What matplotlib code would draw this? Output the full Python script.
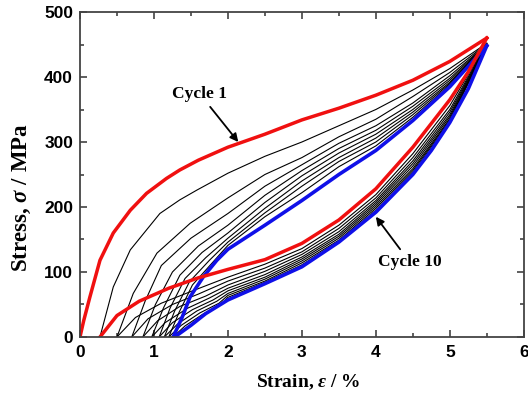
import matplotlib.pyplot as plt
from matplotlib.ticker import MultipleLocator

plt.rcParams['mathtext.fontset'] = 'custom'
plt.rcParams['mathtext.it'] = 'Liberation Serif:italic:bold'
plt.rcParams['mathtext.rm'] = 'Liberation Serif:bold'

# --- values (strain %, stress MPa) ---
c1_load_x = [0.0, 0.05, 0.135, 0.27, 0.45, 0.68, 0.9, 1.17, 1.35, 1.6, 2.0, 2.5, 3.0, 3.5, 4.0, 4.5, 5.0, 5.5]
c1_load_y = [0, 25, 62, 118, 160, 195, 221, 244, 257, 272, 292, 312, 334, 352, 372, 395, 424, 460]
c1_unload_x = [5.5, 5.25, 5.0, 4.5, 4.0, 3.5, 3.0, 2.5, 2.0, 1.6, 1.2, 0.8, 0.5, 0.27]
c1_unload_y = [460, 408, 365, 292, 228, 180, 144, 119, 104, 91, 75, 55, 33, 0]

c10_load_x = [1.26, 1.38, 1.49, 1.67, 1.85, 2.0, 2.5, 3.0, 3.5, 4.0, 4.5, 5.0, 5.5]
c10_load_y = [0, 30, 62, 93, 118, 135, 172, 210, 250, 287, 333, 385, 448]
c10_unload_x = [5.5, 5.25, 5.0, 4.75, 4.5, 4.0, 3.5, 3.0, 2.5, 2.0, 1.7, 1.5, 1.28]
c10_unload_y = [448, 382, 330, 287, 250, 192, 146, 108, 82, 57, 36, 18, 0]

# cycles 2..9 (black)
mid_load_x = [
    [0.27, 0.45, 0.68, 1.08, 1.35, 1.58, 2.0, 2.5, 3.0, 3.5, 4.0, 4.5, 5.0, 5.5],
    [0.50, 0.72, 1.04, 1.49, 2.0, 2.5, 3.0, 3.5, 4.0, 4.5, 5.0, 5.5],
    [0.70, 0.88, 1.10, 1.50, 2.0, 2.5, 3.0, 3.5, 4.0, 4.5, 5.0, 5.5],
    [0.85, 1.02, 1.25, 1.60, 2.0, 2.5, 3.0, 3.5, 4.0, 4.5, 5.0, 5.5],
    [0.97, 1.13, 1.35, 1.65, 2.0, 2.5, 3.0, 3.5, 4.0, 4.5, 5.0, 5.5],
    [1.07, 1.22, 1.42, 1.70, 2.0, 2.5, 3.0, 3.5, 4.0, 4.5, 5.0, 5.5],
    [1.14, 1.28, 1.48, 1.75, 2.0, 2.5, 3.0, 3.5, 4.0, 4.5, 5.0, 5.5],
    [1.20, 1.34, 1.52, 1.78, 2.0, 2.5, 3.0, 3.5, 4.0, 4.5, 5.0, 5.5],
]
mid_load_y = [
    [0, 77, 134, 190, 211, 226, 252, 278, 300, 325, 350, 380, 413, 452],
    [0, 67, 129, 175, 214, 250, 276, 308, 335, 370, 407, 451],
    [0, 55, 110, 152, 190, 232, 265, 298, 325, 360, 402, 450],
    [0, 50, 100, 140, 172, 218, 256, 290, 318, 355, 398, 450],
    [0, 45, 95, 130, 160, 207, 248, 283, 312, 350, 395, 449],
    [0, 45, 90, 122, 152, 198, 240, 276, 306, 346, 392, 449],
    [0, 40, 85, 118, 146, 191, 232, 270, 300, 342, 390, 449],
    [0, 38, 80, 113, 141, 185, 222, 262, 294, 338, 388, 448],
]
mid_unload_x = [
    [5.5, 5.0, 4.5, 4.0, 3.5, 3.0, 2.5, 2.0, 1.5, 1.1, 0.75, 0.50],
    [5.5, 5.0, 4.5, 4.0, 3.5, 3.0, 2.5, 2.0, 1.6, 1.25, 0.92, 0.70],
    [5.5, 5.0, 4.5, 4.0, 3.5, 3.0, 2.5, 2.0, 1.7, 1.35, 1.05, 0.85],
    [5.5, 5.0, 4.5, 4.0, 3.5, 3.0, 2.5, 2.0, 1.75, 1.45, 1.15, 0.97],
    [5.5, 5.0, 4.5, 4.0, 3.5, 3.0, 2.5, 2.0, 1.8, 1.52, 1.25, 1.07],
    [5.5, 5.0, 4.5, 4.0, 3.5, 3.0, 2.5, 2.0, 1.85, 1.58, 1.32, 1.14],
    [5.5, 5.0, 4.5, 4.0, 3.5, 3.0, 2.5, 2.0, 1.88, 1.62, 1.37, 1.20],
    [5.5, 5.0, 4.5, 4.0, 3.5, 3.0, 2.5, 2.0, 1.9, 1.66, 1.42, 1.26],
]
mid_unload_y = [
    [452, 356, 282, 219, 172, 136, 112, 92, 70, 52, 30, 0],
    [451, 350, 276, 214, 167, 131, 106, 86, 66, 50, 28, 0],
    [450, 346, 271, 210, 162, 127, 101, 80, 63, 47, 25, 0],
    [450, 342, 267, 207, 158, 123, 96, 75, 60, 44, 22, 0],
    [449, 339, 263, 204, 155, 120, 92, 71, 57, 42, 22, 0],
    [449, 336, 259, 201, 152, 117, 89, 67, 55, 40, 20, 0],
    [449, 334, 256, 198, 149, 114, 86, 64, 52, 37, 18, 0],
    [448, 332, 253, 195, 147, 111, 84, 61, 50, 35, 17, 0],
]

x_ticks = [0, 1, 2, 3, 4, 5, 6]
y_ticks = [0, 100, 200, 300, 400, 500]

fig = plt.figure(figsize=(5.28, 3.94), dpi=100)
ax = fig.add_axes([0.1515, 0.1447, 0.8405, 0.8248])

for i in range(len(mid_load_x)):
    ax.plot(mid_load_x[i], mid_load_y[i], color='black', lw=0.8)
    ax.plot(mid_unload_x[i], mid_unload_y[i], color='black', lw=0.8)

ax.plot(c10_load_x, c10_load_y, color='#1010e8', lw=2.6, solid_joinstyle='round')
ax.plot(c10_unload_x, c10_unload_y, color='#1010e8', lw=2.6, solid_joinstyle='round')
ax.plot(c1_load_x, c1_load_y, color='#f01010', lw=2.5, solid_joinstyle='round')
ax.plot(c1_unload_x, c1_unload_y, color='#f01010', lw=2.5, solid_joinstyle='round')

arrow = dict(arrowstyle='-|>', color='black', lw=1.3, mutation_scale=12, shrinkA=2, shrinkB=0)
ax.annotate('Cycle 1', xy=(2.14, 300), xytext=(1.62, 374), ha='center', va='center',
            fontsize=12.5, fontweight='bold', family='Liberation Serif', arrowprops=arrow)
ax.annotate('Cycle 10', xy=(4.0, 185), xytext=(4.46, 115), ha='center', va='center',
            fontsize=12.5, fontweight='bold', family='Liberation Serif', arrowprops=arrow)

ax.set_xlim(0, 6)
ax.set_ylim(0, 500)
ax.set_xticks(x_ticks)
ax.set_yticks(y_ticks)
ax.xaxis.set_minor_locator(MultipleLocator(0.5))
ax.yaxis.set_minor_locator(MultipleLocator(50))
ax.tick_params(which='both', direction='in', top=True, right=True, width=1.1, colors='#333333')
ax.tick_params(which='major', length=5)
ax.tick_params(which='minor', length=3)
ax.tick_params(axis='x', pad=6)
ax.tick_params(axis='y', pad=5)
for lab in ax.get_xticklabels() + ax.get_yticklabels():
    lab.set_family('Liberation Sans')
    lab.set_fontweight('bold')
    lab.set_fontsize(12.5)
    lab.set_color('black')
for sp in ax.spines.values():
    sp.set_linewidth(1.3)
    sp.set_color('#444444')

ax.set_xlabel(r'Strain, $\varepsilon$ / %', fontsize=14, fontweight='bold',
              family='Liberation Serif')
ax.set_ylabel(r'Stress, $\sigma$ / MPa', fontsize=16.5, fontweight='bold',
              family='Liberation Serif')
ax.xaxis.set_label_coords(0.514, -0.108)
ax.yaxis.set_label_coords(-0.105, 0.43)

fig.savefig('out.png', dpi=100)
